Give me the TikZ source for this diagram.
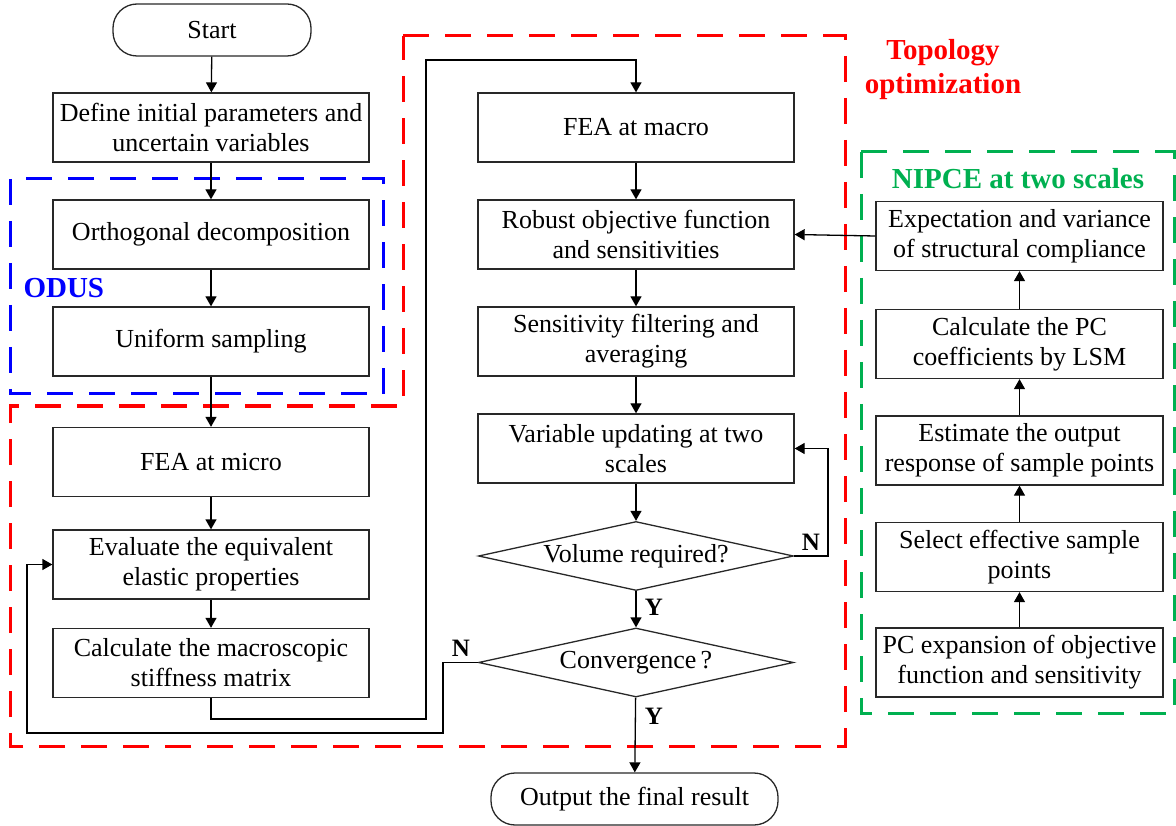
\documentclass[tikz,border=0pt]{standalone}
\usepackage{fontspec}
\setmainfont{Liberation Serif}
\usetikzlibrary{arrows.meta,shapes.geometric}
\definecolor{odusblue}{RGB}{0,0,255}
\definecolor{topored}{RGB}{255,0,0}
\definecolor{nipgreen}{RGB}{0,176,80}
\definecolor{edgegray}{RGB}{40,40,40}
\begin{document}
\begin{tikzpicture}[x=1pt,y=-1pt,
  every node/.style={font=\fontsize{26}{30}\selectfont},
  procbox/.style={draw=edgegray,line width=1.3pt,rectangle,minimum width=316pt,minimum height=69pt,inner sep=0pt,align=center},
  nipbox/.style={procbox,minimum width=287pt},
  termbox/.style={draw=edgegray,line width=1.3pt,rectangle,rounded corners=24pt,minimum height=52pt,inner sep=0pt,align=center},
  decbox/.style={draw=edgegray,line width=1.3pt,diamond,aspect=4.565,minimum width=315pt,minimum height=69pt,inner sep=0pt,align=center},
  arr/.style={line width=1.3pt,draw=black,-{Triangle[length=10pt,width=11pt]}},
  conn/.style={line width=1.3pt,draw=black},
  yn/.style={font=\fontsize{25}{28}\selectfont\bfseries},
  region/.style={line width=3pt,dash pattern=on 26pt off 16pt},
  grouplabel/.style={font=\fontsize{29}{34}\selectfont\bfseries,align=center}
]
\useasboundingbox (0,0) rectangle (1176,826);

% regions
\draw[region,odusblue] (10,179) rectangle (383,394);
\draw[region,topored] (403,36) -- (845,36) -- (845,746) -- (10,746) -- (10,406) -- (403,406) -- cycle;
\draw[region,nipgreen] (861,152) rectangle (1174,713);

\node[grouplabel,text=odusblue,anchor=west] (odus) at (20,288) {ODUS};
\node[grouplabel,text=topored] (topo) at (943,70) {Topology\\optimization};
\node[grouplabel,text=nipgreen] (nipce) at (1018,179) {NIPCE at two scales};

% left column
\node[termbox,minimum width=198pt] (start) at (212,30) {Start};
\node[procbox] (define) at (211,127.5) {Define initial parameters and\\uncertain variables};
\node[procbox] (ortho) at (211,234.5) {Orthogonal decomposition};
\node[procbox] (uniform) at (211,341.5) {Uniform sampling};
\node[procbox] (feamicro) at (211,462) {FEA at micro};
\node[procbox] (evaluate) at (211,564.5) {Evaluate the equivalent\\elastic properties};
\node[procbox] (calcmacro) at (211,663) {Calculate the macroscopic\\stiffness matrix};

% middle column
\node[procbox] (feamacro) at (636,127.5) {FEA at macro};
\node[procbox] (robust) at (636,234.5) {Robust objective function\\and sensitivities};
\node[procbox] (sensfilt) at (636,341.5) {Sensitivity filtering and\\averaging};
\node[procbox] (varupd) at (636,448.5) {Variable updating at two\\scales};
\node[decbox] (volume) at (636,556) {Volume required?};
\node[decbox] (conv) at (636,662.5) {Convergence\,?};
\node[termbox,minimum width=287pt] (output) at (634.5,799) {Output the final result};

% right column
\node[nipbox] (expect) at (1019.5,236) {Expectation and variance\\of structural compliance};
\node[nipbox] (calcpc) at (1019.5,344) {Calculate the PC\\coefficients by LSM};
\node[nipbox] (estimate) at (1019.5,450.5) {Estimate the output\\response of sample points};
\node[nipbox] (select) at (1019.5,557) {Select effective sample\\points};
\node[nipbox] (pcexp) at (1019.5,662.5) {PC expansion of objective\\function and sensitivity};

% connectors
\draw[arr] (start) -- (define);
\draw[arr] (define) -- (ortho);
\draw[arr] (ortho) -- (uniform);
\draw[arr] (uniform) -- (feamicro);
\draw[arr] (feamicro) -- (evaluate);
\draw[arr] (evaluate) -- (calcmacro);

\coordinate (m1) at (211,719);
\coordinate (m2) at (426,60);
\draw[arr] (calcmacro.south) -- (m1) -| (m2) -| (feamacro.north);

\draw[arr] (feamacro) -- (robust);
\draw[arr] (robust) -- (sensfilt);
\draw[arr] (sensfilt) -- (varupd);
\draw[arr] (varupd) -- (volume);
\draw[arr] (volume) -- (conv);
\node[yn] (y1) at (654,607) {Y};
\draw[arr] (conv) -- (output);
\node[yn] (y2) at (654,716) {Y};

\coordinate (v1) at (828,556);
\draw[arr] (volume.east) -- (v1) |- (varupd.east);
\node[yn] (n1) at (811,542) {N};

\coordinate (c1) at (443,733);
\coordinate (c2) at (27,733);
\draw[arr] (conv.west) -| (c1) -- (c2) |- (evaluate.west);
\node[yn] (n2) at (461,648) {N};

\draw[arr] (expect.west) -- (robust.east);
\draw[arr] (pcexp) -- (select);
\draw[arr] (select) -- (estimate);
\draw[arr] (estimate) -- (calcpc);
\draw[arr] (calcpc) -- (expect);
\end{tikzpicture}
\end{document}
